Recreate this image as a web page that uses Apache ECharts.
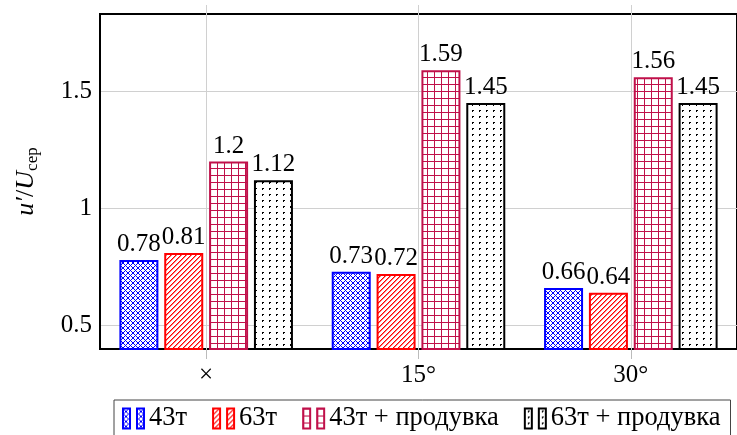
<!DOCTYPE html>
<html>
<head>
<meta charset="utf-8">
<script src="https://cdn.jsdelivr.net/npm/echarts@6/dist/echarts.min.js"></script>
<style>html,body{margin:0;padding:0;background:#fff}#c{width:737px;height:435px}</style>
</head>
<body>
<div id="c"></div>
<script>
const categories = ['×', '15°', '30°'];
const seriesNames = ['43т', '63т', '43т + продувка', '63т + продувка'];
const s43 = [0.78, 0.73, 0.66];
const s63 = [0.81, 0.72, 0.64];
const s43p = [1.2, 1.59, 1.56];
const s63p = [1.12, 1.45, 1.45];
const yTickLabels = [0.5, 1, 1.5];

const FONT = 'Liberation Serif';

function pixPat(w, h, colorFn) {
  const c = document.createElement('canvas');
  c.width = w; c.height = h;
  const g = c.getContext('2d');
  g.fillStyle = '#fff'; g.fillRect(0, 0, w, h);
  for (let x = 0; x < w; x++) for (let y = 0; y < h; y++) {
    const col = colorFn(x, y);
    if (col) { g.fillStyle = col; g.fillRect(x, y, 1, 1); }
  }
  return { image: c, repeat: 'repeat' };
}
const blueC = '#0000ff', redC = '#ff0000', purC = '#c0104a', blkC = '#000000';
const patBlue = pixPat(5, 5, (x, y) => ((x + y) % 5 === 0 || ((x - y) % 5 + 5) % 5 === 0) ? blueC : null);
const patRed = pixPat(5, 5, (x, y) => {
  const k = (x + y) % 5;
  return k === 0 ? redC : (k === 1 ? '#ff7a7a' : null);
});
const patPur = pixPat(7, 7, (x, y) => (x === 0 || y === 0) ? purC : null);
const patBlk = pixPat(7, 6, (x, y) => ((x === 3 || x === 4) && (y === 2 || y === 3) && !(x === 4 && y === 3)) ? blkC : null);

const data = [s43, s63, s43p, s63p];
const fills = [patBlue, patRed, patPur, patBlk];
const strokes = [blueC, redC, purC, blkC];

const series = data.map((d, i) => ({
  name: seriesNames[i],
  type: 'bar',
  data: d,
  barWidth: 39,
  barGap: '15%',
  clip: true,
  itemStyle: { color: fills[i], borderColor: strokes[i], borderWidth: 2 },
  emphasis: { disabled: true },
  label: {
    show: true, position: 'top', distance: 3,
    fontFamily: FONT, fontSize: 25, color: '#000',
    formatter: p => String(p.value)
  }
}));

const chart = echarts.init(document.getElementById('c'), null, { renderer: 'canvas' });
chart.setOption({
  animation: false,
  backgroundColor: '#fff',
  grid: { left: 100, top: 14, width: 642, bottom: 86, show: true, borderColor: '#000', borderWidth: 2, backgroundColor: 'transparent' },
  legend: {
    left: 114, top: 400,
    padding: [5, 10, 14, 8],
    itemGap: 25,
    itemWidth: 21, itemHeight: 20,
    icon: 'path://M0,0h7v20h-7zM14,0h7v20h-7z',
    borderColor: '#444', borderWidth: 1,
    textStyle: { fontFamily: FONT, fontSize: 26.5, color: '#000' },
    data: seriesNames
  },
  xAxis: [{
    type: 'category', data: categories, position: 'bottom',
    axisLine: { show: true, lineStyle: { color: '#000', width: 2 } },
    axisTick: { show: true, alignWithLabel: true, length: 10, lineStyle: { color: '#bbb', width: 1 } },
    axisLabel: { fontFamily: FONT, fontSize: 25, color: '#000', margin: 14 },
    splitLine: { show: false }
  }, {
    type: 'category', data: categories, position: 'bottom',
    axisLine: { show: false },
    axisTick: { show: true, inside: true, alignWithLabel: true, length: 344, lineStyle: { color: '#d0d0d0', width: 1 } },
    axisLabel: { show: false },
    splitLine: { show: false }
  }],
  yAxis: {
    type: 'value', min: 0.4, max: 1.83, interval: 0.1,
    name: '{i|u′}{n|/}{i|U}{s|сер}',
    nameLocation: 'middle', nameRotate: 90, nameGap: 59,
    nameTextStyle: {
      rich: {
        i: { fontFamily: FONT, fontStyle: 'italic', fontSize: 26, color: '#000', lineHeight: 30 },
        n: { fontFamily: FONT, fontSize: 26, color: '#000', lineHeight: 30 },
        s: { fontFamily: FONT, fontSize: 17, color: '#000', lineHeight: 14, verticalAlign: 'bottom' }
      }
    },
    axisLine: { show: true, lineStyle: { color: '#000', width: 2 } },
    axisTick: { show: false },
    axisLabel: {
      fontFamily: FONT, fontSize: 25, color: '#000', margin: 8,
      formatter: v => {
        const m = yTickLabels.find(t => Math.abs(t - v) < 1e-6);
        return m === undefined ? '' : String(m);
      }
    },
    splitLine: { show: true, lineStyle: { color: ['transparent', '#d0d0d0', 'transparent', 'transparent', 'transparent'], width: 1 } }
  },
  series: series
});
</script>
</body>
</html>
